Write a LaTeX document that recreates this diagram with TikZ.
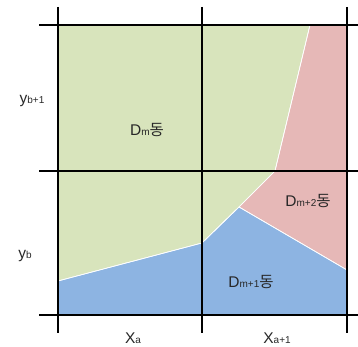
\documentclass[tikz,border=0pt]{standalone}
\usepackage{fontspec}
\setmainfont{Liberation Sans}
\newfontfamily\kor{Noto Sans CJK KR}
\usepackage{xcolor}
\newcommand{\smallsub}[1]{{\fontsize{10}{11}\selectfont #1}}

\begin{document}
\begin{tikzpicture}[x=1pt,y=1pt,yscale=-1,xscale=1,
  lbl/.style={inner sep=0.75pt, text={rgb,255:red,40;green,40;blue,40}, font=\fontsize{15.5}{16}\selectfont},
  zone/.style={draw=white, line width=0.6pt},
  grid/.style={line width=1.6pt, color=black}]
\useasboundingbox (0,0) rectangle (358,347);

%Shape: Polygon [green zone]
\fill [zone, fill={rgb, 255:red, 216; green, 228; blue, 188 }] (58,25) -- (310,25) -- (275,171) -- (239,207) -- (202,243) -- (58,281) -- cycle ;
%Shape: Polygon [red zone]
\fill [zone, fill={rgb, 255:red, 230; green, 184; blue, 183 }] (310,25) -- (347,25) -- (347,270) -- (239,207) -- (275,171) -- cycle ;
%Shape: Polygon [blue zone]
\fill [zone, fill={rgb, 255:red, 141; green, 180; blue, 226 }] (58,281) -- (202,243) -- (239,207) -- (347,270) -- (347,315) -- (58,315) -- cycle ;
\draw [zone] (310,25) -- (275,171) -- (239,207) -- (202,243) -- (58,281) ;
\draw [zone] (239,207) -- (347,270) ;

%Straight Lines [vertical grid]
\draw [grid] (58,7) -- (58,333) ;
\draw [grid] (202,7) -- (202,333) ;
\draw [grid] (347,7) -- (347,333) ;
%Straight Lines [horizontal grid]
\draw [grid] (39,25) -- (358,25) ;
\draw [grid] (39,171) -- (358,171) ;
\draw [grid] (39,315) -- (358,315) ;

% Text Node
\draw (147,130) node [lbl] (dm) {D\smallsub{m}{\kor 동}};
% Text Node
\draw (308,201) node [lbl] (dm2) {D\smallsub{m+2}{\kor 동}};
% Text Node
\draw (251,282) node [lbl] (dm1) {D\smallsub{m+1}{\kor 동}};
% Text Node
\draw (32,101) node [lbl] (yb1) {y\smallsub{b+1}};
% Text Node
\draw (25,256) node [lbl] (yb) {y\smallsub{b}};
% Text Node
\draw (133,338) node [lbl] (xa) {X\smallsub{a}};
% Text Node
\draw (277,338) node [lbl] (xa1) {X\smallsub{a+1}};

\end{tikzpicture}
\end{document}
